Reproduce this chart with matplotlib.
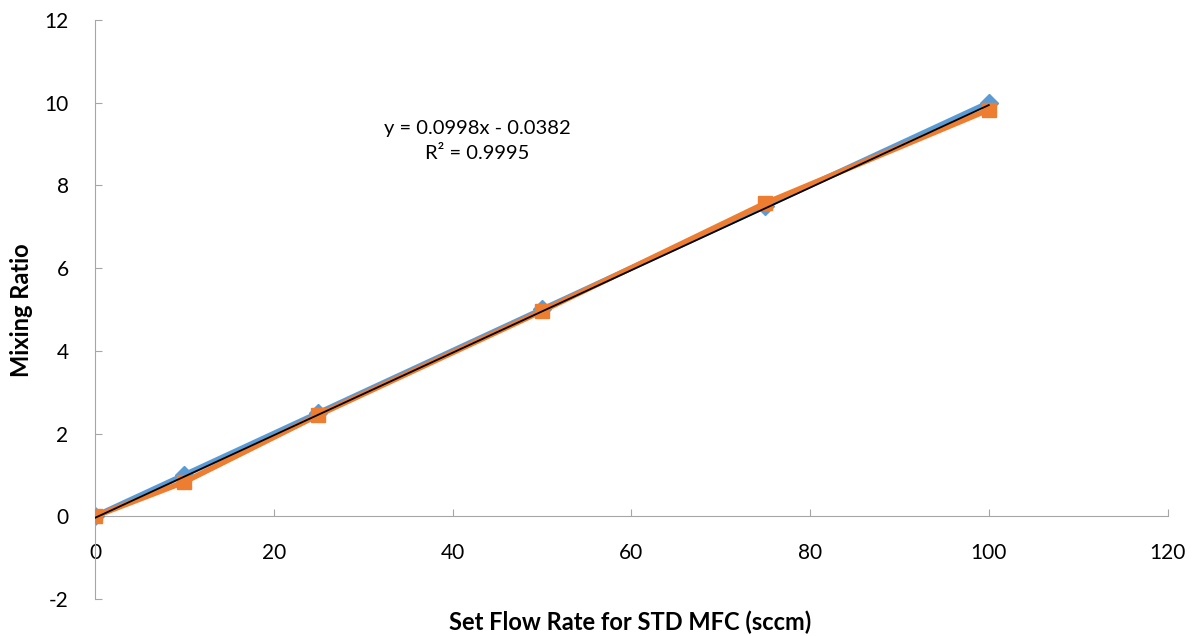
import numpy as np
import matplotlib
matplotlib.use("Agg")
import matplotlib.pyplot as plt

plt.rcParams['font.family'] = ['Lato', 'DejaVu Sans']
plt.rcParams['axes.unicode_minus'] = False

# set flow rate (sccm) and measured mixing ratios
flow = [0, 10, 25, 50, 75, 100]
ratio_a = [0, 1.0, 2.5, 5.0, 7.5, 10.0]
ratio_b = [0, 0.83, 2.45, 4.96, 7.57, 9.83]

# linear fit shown on chart
slope = 0.0998
intercept = -0.0382
eq_text = "y = 0.0998x - 0.0382\nR² = 0.9995"

BLUE = '#5B9BD5'
ORANGE = '#ED7D31'
GREY = '#A6A6A6'

fig = plt.figure(figsize=(11.95, 6.36), dpi=100)
ax = fig.add_axes([0.0795, 0.0582, 0.8975, 0.9104])

ax.plot(flow, ratio_a, color=BLUE, lw=4, marker='D', ms=9, zorder=2)
ax.plot(flow, ratio_b, color=ORANGE, lw=4, marker='s', ms=10, zorder=3)

xfit = np.array([flow[0], flow[-1]])
ax.plot(xfit, slope * xfit + intercept, color='black', lw=1.3, zorder=4)

ax.text(42.8, 9.08, eq_text, ha='center', va='center', fontsize=14.5,
        linespacing=1.6)

ax.set_xlim(0, 120)
ax.set_ylim(-2, 12)
ax.set_xticks(range(0, 121, 20))
ax.set_yticks(range(-2, 13, 2))

for s in ['top', 'right']:
    ax.spines[s].set_visible(False)
ax.spines['bottom'].set_position(('data', 0))
ax.spines['bottom'].set_color(GREY)
ax.spines['left'].set_color(GREY)
ax.spines['bottom'].set_zorder(1)

ax.tick_params(axis='y', direction='in', length=5, color=GREY,
               labelsize=15, pad=19)
ax.tick_params(axis='x', direction='in', length=5, color=GREY,
               labelsize=15, pad=19)

fig.text(0.527, 0.022, 'Set Flow Rate for STD MFC (sccm)', fontsize=17,
         fontweight='bold', ha='center', va='center')
fig.text(0.0184, 0.5126, 'Mixing Ratio', fontsize=17, fontweight='bold',
         rotation=90, ha='center', va='center')

fig.savefig('out.png', dpi=100)
